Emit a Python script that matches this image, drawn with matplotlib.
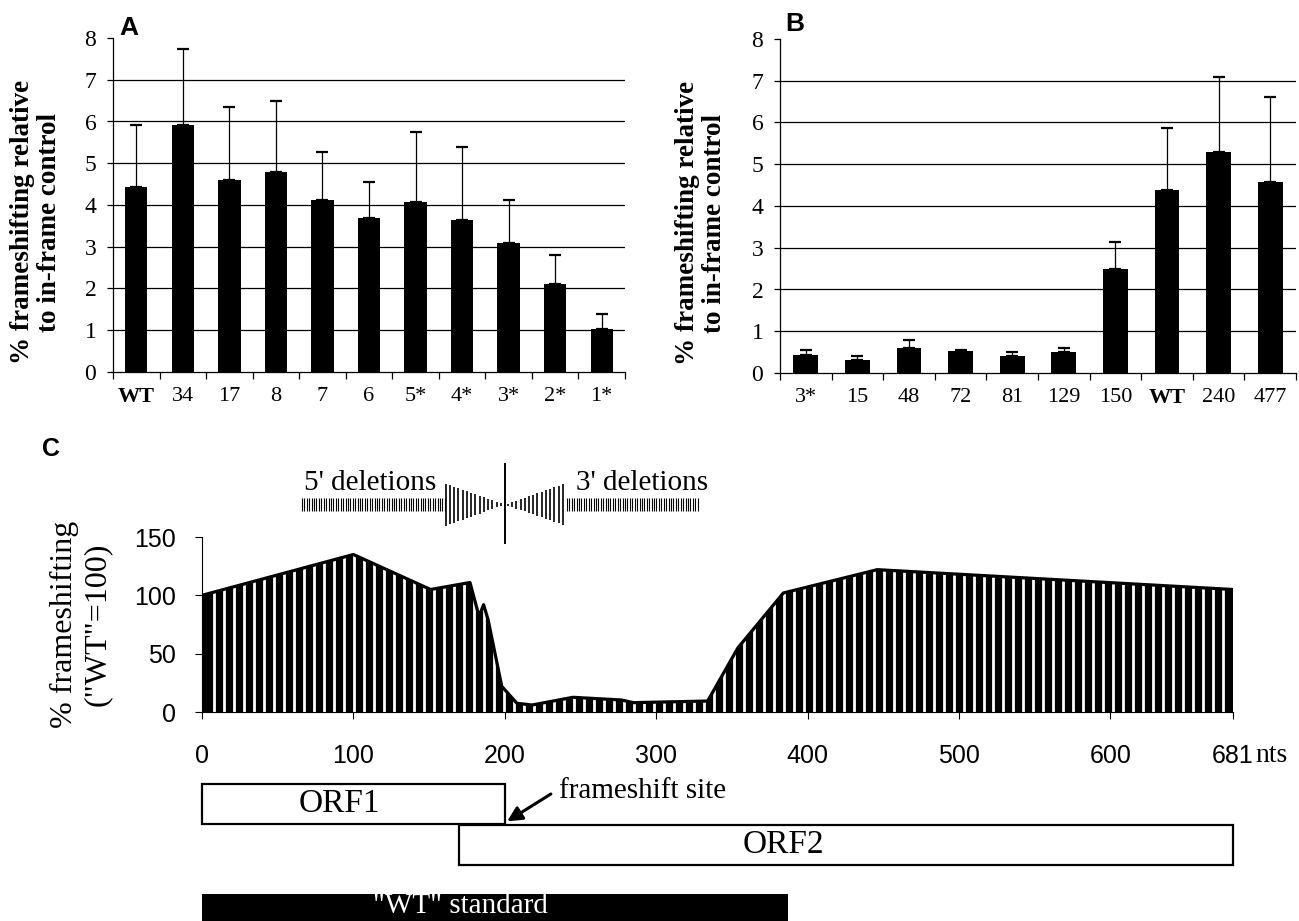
import numpy as np
import matplotlib
matplotlib.use('Agg')
import matplotlib.pyplot as plt
from matplotlib.patches import Rectangle, Polygon

plt.rcParams['font.family'] = ['Liberation Serif', 'DejaVu Serif']
SANS = ['Liberation Sans', 'DejaVu Sans']

# --- data: panel A (5' deletions) ---
a_labels = ['WT', '34', '17', '8', '7', '6', '5*', '4*', '3*', '2*', '1*']
a_values = [4.42, 5.91, 4.60, 4.80, 4.11, 3.68, 4.07, 3.63, 3.10, 2.10, 1.02]
a_err = [1.49, 1.83, 1.74, 1.68, 1.17, 0.86, 1.67, 1.75, 1.01, 0.70, 0.38]

# --- data: panel B (3' deletions) ---
b_labels = ['3*', '15', '48', '72', '81', '129', '150', 'WT', '240', '477']
b_values = [0.42, 0.32, 0.61, 0.53, 0.41, 0.50, 2.48, 4.39, 5.30, 4.58]
b_err = [0.14, 0.09, 0.18, 0.01, 0.09, 0.10, 0.65, 1.49, 1.78, 2.02]

# --- data: panel C (profile along the sequence) ---
c_nt = [0, 100, 151, 177, 183, 186, 189, 198, 208, 218, 245, 277, 285, 334, 354, 384, 446, 681]
c_pct = [100, 135, 105, 111, 82, 92, 79, 22, 7.5, 6, 12.6, 10.3, 8, 9.4, 55, 102, 122, 105]
c_ticks = [0, 100, 200, 300, 400, 500, 600, 681]

orf_names = ['ORF1', 'ORF2']
orf_start = [0, 170]
orf_end = [200, 681]
wt_start, wt_end = 0, 387
fs_site = 200


def bar_panel(ax, labels, values, err, width):
    x = np.arange(len(labels))
    for g in range(1, 8):
        ax.axhline(g, color='black', lw=0.9, zorder=0)
    ax.bar(x, values, width, color='black', zorder=2)
    ax.errorbar(x, values, yerr=[np.zeros(len(x)), err], fmt='none',
                ecolor='black', elinewidth=0.9, capsize=4, capthick=1.6, zorder=3)
    ax.set_xlim(-0.5, len(x) - 0.5)
    ax.set_ylim(0, 8)
    ax.set_yticks(range(9))
    ax.set_xticks(x)
    ax.set_xticklabels(labels)
    ax.set_xticks(np.arange(len(x) + 1) - 0.5, minor=True)
    ax.tick_params(axis='x', which='major', length=0, pad=11, labelsize=16)
    ax.tick_params(axis='x', which='minor', length=5, direction='out', width=0.9)
    ax.tick_params(axis='y', length=4, pad=8, labelsize=17, width=0.9)
    for s in ['top', 'right']:
        ax.spines[s].set_visible(False)
    for s in ['left', 'bottom']:
        ax.spines[s].set_linewidth(0.9)
    for lab in ax.get_xticklabels():
        if lab.get_text() == 'WT':
            lab.set_fontweight('bold')
    ax.set_ylabel('% frameshifting relative\nto in-frame control', fontsize=19.5,
                  fontweight='bold', linespacing=1.1)


W, H = 1299, 921
fig = plt.figure(figsize=(W / 100, H / 100), dpi=100)

axa = fig.add_axes([113 / W, 1 - 372 / H, 512 / W, 334 / H])
bar_panel(axa, a_labels, a_values, a_err, 0.48)
axa.yaxis.set_label_coords(-0.10, 0.449)

axb = fig.add_axes([780 / W, 1 - 373 / H, 516 / W, 334 / H])
bar_panel(axb, b_labels, b_values, b_err, 0.48)
axb.yaxis.set_label_coords(-0.103, 0.449)

fig.text(119 / W, 1 - 16 / H, 'A', fontsize=19, fontweight='bold', family=SANS, va='top')
fig.text(785 / W, 1 - 12 / H, 'B', fontsize=19, fontweight='bold', family=SANS, va='top')
fig.text(42 / W, 1 - 437 / H, 'C', fontsize=18, fontweight='bold', family=SANS, va='top')

# --- panel C ---
axc = fig.add_axes([202 / W, 1 - 712 / H, 1031 / W, 175 / H])
verts = list(zip(c_nt, c_pct)) + [(c_nt[-1], 0), (c_nt[0], 0)]
area = Polygon(verts, closed=True, fc='black', ec='none', zorder=1)
axc.add_patch(area)
stripes = axc.vlines(np.arange(8, 681, 6.6), 0, 150, colors='white', lw=2.0, zorder=2)
stripes.set_clip_path(area)
axc.plot(c_nt, c_pct, color='black', lw=2.3, zorder=3, solid_joinstyle='round')
axc.set_xlim(0, 681)
axc.set_ylim(0, 150)
axc.set_yticks([0, 50, 100, 150])
axc.set_xticks(c_ticks)
axc.set_xticklabels([str(t) for t in c_ticks])
axc.tick_params(axis='x', length=5, pad=18, labelsize=18, labelfontfamily=SANS[0])
axc.tick_params(axis='y', length=5, pad=14, labelsize=18, labelfontfamily=SANS[0])
for s in ['top', 'right']:
    axc.spines[s].set_visible(False)
axc.annotate('nts', xy=(681, 0), xycoords='data', xytext=(16, -36),
             textcoords='offset points', ha='left', va='baseline', fontsize=20)
axc.set_ylabel('% frameshifting\n("WT"=100)', fontsize=23, linespacing=1.2)
axc.yaxis.set_label_coords(-0.087, 0.5)

# deletion direction graphic above the profile
axc.plot([fs_site, fs_site], [145, 213], color='black', lw=1.4, clip_on=False)
axc.vlines(np.arange(66, 161, 1.6), 172.2, 183.4, colors='black', lw=0.8, clip_on=False)
axc.vlines(np.arange(241, 328, 1.6), 172.2, 183.4, colors='black', lw=0.8, clip_on=False)
wl = np.arange(161, 199, 2.8)
half = 18 * (200 - wl) / 39
axc.vlines(wl, 177.8 - half, 177.8 + half, colors='black', lw=1.2, clip_on=False)
wr = np.arange(202, 241, 2.8)
half = 18 * (wr - 200) / 40
axc.vlines(wr, 177.8 - half, 177.8 + half, colors='black', lw=1.2, clip_on=False)
axc.text(155, 190, "5' deletions", ha='right', va='baseline', fontsize=21)
axc.text(247, 190, "3' deletions", ha='left', va='baseline', fontsize=21)

# ORF map below the axis
orf_text_x = [91, 384]
orf_y = [-96.2, -131.1]
for name, s, e, tx, y0 in zip(orf_names, orf_start, orf_end, orf_text_x, orf_y):
    axc.add_patch(Rectangle((s, y0), e - s, 34.4, fill=False, ec='black', lw=1.6,
                            clip_on=False))
    axc.text(tx, y0 + 17.2, name, ha='center', va='center', fontsize=24)
axc.annotate('', xy=(fs_site, -95), xytext=(232, -69), xycoords='data',
             arrowprops=dict(arrowstyle='-|>', color='black', lw=2.2, mutation_scale=22),
             annotation_clip=False)
axc.text(236, -73.7, 'frameshift site', ha='left', va='baseline', fontsize=21)
axc.add_patch(Rectangle((wt_start, -200), wt_end - wt_start, 44, fc='black', ec='none',
                        clip_on=False))
axc.text(171, -172, '"WT" standard', ha='center', va='baseline', fontsize=21,
         color='white')

fig.savefig('out.png', dpi=100)
